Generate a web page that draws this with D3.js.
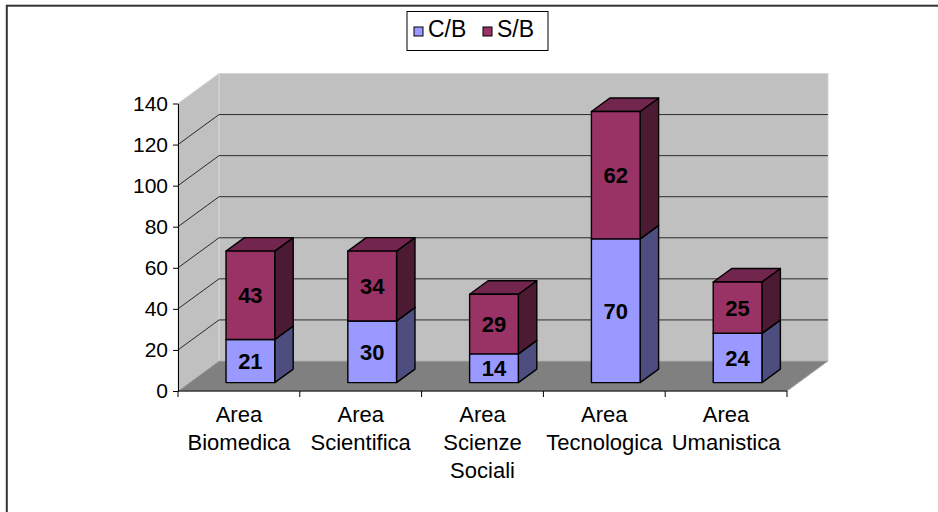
<!DOCTYPE html>
<html>
<head>
<meta charset="utf-8">
<script src="https://cdn.jsdelivr.net/npm/d3@7"></script>
<style>
  body { margin: 0; background: #fff; }
  text { font-family: "Liberation Sans", Arial, sans-serif; }
</style>
</head>
<body>
<script>
// chart values
var categories = ["Area Biomedica", "Area Scientifica", "Area Scienze Sociali", "Area Tecnologica", "Area Umanistica"];
var seriesNames = ["C/B", "S/B"];
var cb = [21, 30, 14, 70, 24];
var sb = [43, 34, 29, 62, 25];
var yTicks = [0, 20, 40, 60, 80, 100, 120, 140];

var colors = {
  "C/B": { front: "#9999ff", side: "#4d4d80", top: "#7373bf" },
  "S/B": { front: "#993366", side: "#4d1a33", top: "#73264d" }
};

var W = 938, H = 512;
var svg = d3.select("body").append("svg")
  .attr("width", W)
  .attr("height", H);

// outer chart border
svg.append("rect")
  .attr("x", 6.8).attr("y", 5.7)
  .attr("width", 1000).attr("height", 1000)
  .attr("fill", "none")
  .attr("stroke", "#333")
  .attr("stroke-width", 2);

// 3d depth offset of the plot
var DX = 41, DY = 30;
var x0 = 178, x1 = 787;

var xScale = d3.scaleBand()
  .domain(categories)
  .range([x0, x1]);

var yScale = d3.scaleLinear()
  .domain([0, 140])
  .range([391, 103.5]);

function proj(x, y, t) {
  return [x + t * DX, y - t * DY];
}
function pts(list) {
  return list.map(function(p) { return p.join(","); }).join(" ");
}

var yb = yScale(0), yt = yScale(140);

// walls and floor
svg.append("polygon")
  .attr("points", pts([proj(x0, yt, 1), proj(x1, yt, 1), proj(x1, yb, 1), proj(x0, yb, 1)]))
  .attr("fill", "#c0c0c0").attr("stroke", "#d6d6d6");
svg.append("polygon")
  .attr("points", pts([[x0, yt], proj(x0, yt, 1), proj(x0, yb, 1), [x0, yb]]))
  .attr("fill", "#c0c0c0").attr("stroke", "#d6d6d6");
svg.append("polygon")
  .attr("points", pts([[x0, yb], [x1, yb], proj(x1, yb, 1), proj(x0, yb, 1)]))
  .attr("fill", "#808080").attr("stroke", "#a8a8a8");

// gridlines
var grid = yTicks.filter(function(d) { return d > 0 && d < 140; });
svg.selectAll(".gl").data(grid).enter().append("polyline")
  .attr("points", function(d) {
    return pts([[x0, yScale(d)], proj(x0, yScale(d), 1), proj(x1, yScale(d), 1)]);
  })
  .attr("fill", "none")
  .attr("stroke", "#2a2a2a")
  .attr("stroke-width", 1);

// bars
var t0 = 0.28, t1 = 0.73;
var bw = xScale.bandwidth() * 0.4;

var stacks = categories.map(function(c, i) {
  return [
    { name: seriesNames[0], cat: c, lo: 0, hi: cb[i], v: cb[i] },
    { name: seriesNames[1], cat: c, lo: cb[i], hi: cb[i] + sb[i], v: sb[i] }
  ];
});

stacks.forEach(function(stack) {
  stack.forEach(function(s) {
    var xl = xScale(s.cat) + (xScale.bandwidth() - bw) / 2;
    var xr = xl + bw;
    var ylo = yScale(s.lo), yhi = yScale(s.hi);
    var g = svg.append("g");
    // side
    g.append("polygon")
      .attr("points", pts([proj(xr, ylo, t0), proj(xr, ylo, t1), proj(xr, yhi, t1), proj(xr, yhi, t0)]))
      .attr("fill", colors[s.name].side);
    // top
    g.append("polygon")
      .attr("points", pts([proj(xl, yhi, t0), proj(xl, yhi, t1), proj(xr, yhi, t1), proj(xr, yhi, t0)]))
      .attr("fill", colors[s.name].top);
    // front
    g.append("polygon")
      .attr("points", pts([proj(xl, ylo, t0), proj(xr, ylo, t0), proj(xr, yhi, t0), proj(xl, yhi, t0)]))
      .attr("fill", colors[s.name].front);
    g.selectAll("polygon")
      .attr("stroke", "#000")
      .attr("stroke-width", 1.4)
      .attr("stroke-linejoin", "round");
    var c = proj((xl + xr) / 2, (ylo + yhi) / 2, t0);
    g.append("text")
      .attr("x", c[0])
      .attr("y", c[1])
      .attr("dy", "0.36em")
      .attr("text-anchor", "middle")
      .attr("font-size", 22)
      .attr("font-weight", "bold")
      .attr("fill", "#000")
      .text(s.v);
  });
});

// y axis
var yAxis = d3.axisLeft(yScale)
  .tickValues(yTicks)
  .tickSize(5)
  .tickSizeOuter(0)
  .tickPadding(5);
var yg = svg.append("g")
  .attr("transform", "translate(" + x0 + ",0)")
  .call(yAxis);
yg.select(".domain").attr("stroke", "#000");
yg.selectAll(".tick line").attr("stroke", "#000");
yg.selectAll(".tick text")
  .attr("font-family", "'Liberation Sans', Arial, sans-serif")
  .attr("font-size", 21)
  .attr("fill", "#000");

// x axis
svg.append("line")
  .attr("x1", x0).attr("x2", x1)
  .attr("y1", yb).attr("y2", yb)
  .attr("stroke", "#000");
var edges = categories.map(function(c) { return xScale(c); }).concat([x1]);
svg.selectAll(".xt").data(edges).enter().append("line")
  .attr("x1", function(d) { return d; })
  .attr("x2", function(d) { return d; })
  .attr("y1", yb).attr("y2", yb + 6)
  .attr("stroke", "#000");

svg.selectAll(".xl").data(categories).enter().append("text")
  .attr("x", function(d) { return xScale(d) + xScale.bandwidth() / 2; })
  .attr("y", 422)
  .attr("text-anchor", "middle")
  .attr("font-size", 22)
  .attr("fill", "#000")
  .each(function(d) {
    var el = d3.select(this);
    d.split(" ").forEach(function(w, i) {
      el.append("tspan")
        .attr("x", el.attr("x"))
        .attr("dy", i === 0 ? 0 : 28)
        .text(w);
    });
  });

// legend
var lg = svg.append("g");
lg.append("rect")
  .attr("x", 407).attr("y", 11.5)
  .attr("width", 141).attr("height", 39)
  .attr("fill", "#fff")
  .attr("stroke", "#000");
var legX = d3.scaleOrdinal().domain(seriesNames).range([414, 483]);
seriesNames.forEach(function(n) {
  lg.append("rect")
    .attr("x", legX(n)).attr("y", 27)
    .attr("width", 9).attr("height", 9)
    .attr("fill", colors[n].front)
    .attr("stroke", "#000");
  lg.append("text")
    .attr("x", legX(n) + 14)
    .attr("y", 37)
    .attr("font-size", 23)
    .attr("fill", "#000")
    .text(n);
});
</script>
</body>
</html>
